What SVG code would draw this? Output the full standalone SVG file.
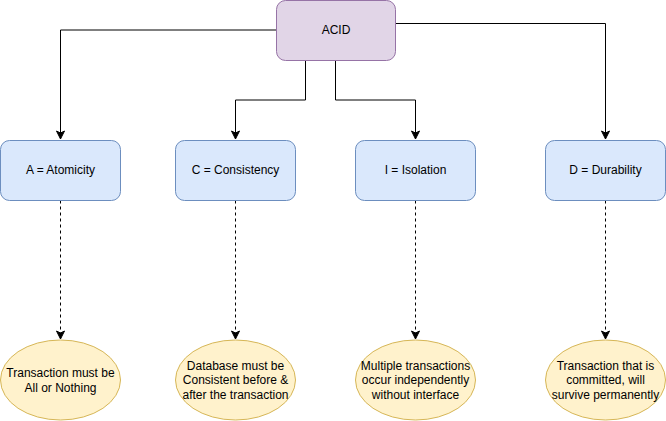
<svg xmlns="http://www.w3.org/2000/svg" width="666" height="421" viewBox="0 0 666 421">
<style>
text{font-family:"Liberation Sans",Arial,Helvetica,sans-serif;font-size:12px;fill:#000;text-anchor:middle}
.root{fill:#e1d5e7;stroke:#9673a6;stroke-width:1}
.box{fill:#dae8fc;stroke:#6c8ebf;stroke-width:1}
.ell{fill:#fff2cc;stroke:#d6b656;stroke-width:1}
.c{fill:none;stroke:#000;stroke-width:1}
.d{stroke-dasharray:3 3}
</style>
<defs>
<marker id="arr" markerWidth="10" markerHeight="10" viewBox="0 0 10 10" refX="9" refY="5" orient="auto" markerUnits="userSpaceOnUse">
<path d="M1,1 L9,5 L1,9 L3,5 Z" fill="#000" stroke="#000" stroke-width="1"/>
</marker>
</defs>
<g id="connectors">
<path class="c" d="M276,30 H60.5 V139" marker-end="url(#arr)"/>
<path class="c" d="M395,23.5 H605.5 V139" marker-end="url(#arr)"/>
<path class="c" d="M305.5,60.5 V100 H235.5 V139" marker-end="url(#arr)"/>
<path class="c" d="M335.5,60.5 V100 H415.5 V139" marker-end="url(#arr)"/>
<path class="c d" d="M60.5,200.5 V339" marker-end="url(#arr)"/>
<path class="c d" d="M235.5,200.5 V339" marker-end="url(#arr)"/>
<path class="c d" d="M415.5,200.5 V339" marker-end="url(#arr)"/>
<path class="c d" d="M605.5,200.5 V339" marker-end="url(#arr)"/>
</g>
<g id="acid">
<rect class="root" x="276.5" y="0.5" width="119" height="60" rx="9"/>
<text x="336" y="34">ACID</text>
</g>
<g id="atomicity">
<rect class="box" x="0.5" y="140.5" width="120" height="60" rx="9"/>
<text x="60.5" y="174">A = Atomicity</text>
</g>
<g id="consistency">
<rect class="box" x="175.5" y="140.5" width="120" height="60" rx="9"/>
<text x="235.5" y="174">C = Consistency</text>
</g>
<g id="isolation">
<rect class="box" x="355.5" y="140.5" width="120" height="60" rx="9"/>
<text x="415.5" y="174">I = Isolation</text>
</g>
<g id="durability">
<rect class="box" x="545.5" y="140.5" width="120" height="60" rx="9"/>
<text x="605.5" y="174">D = Durability</text>
</g>
<g id="atomicity-desc">
<ellipse class="ell" cx="60.5" cy="380" rx="60" ry="40"/>
<text x="60.5" y="377">Transaction must be</text>
<text x="60.5" y="391.5">All or Nothing</text>
</g>
<g id="consistency-desc">
<ellipse class="ell" cx="235.5" cy="380" rx="60" ry="40"/>
<text x="235.5" y="369.5">Database must be</text>
<text x="235.5" y="384">Consistent before &amp;</text>
<text x="235.5" y="398.5">after the transaction</text>
</g>
<g id="isolation-desc">
<ellipse class="ell" cx="415.5" cy="380" rx="60" ry="40"/>
<text x="415.5" y="369.5">Multiple transactions</text>
<text x="415.5" y="384">occur independently</text>
<text x="415.5" y="398.5">without interface</text>
</g>
<g id="durability-desc">
<ellipse class="ell" cx="605.5" cy="380" rx="60" ry="40"/>
<text x="605.5" y="369.5">Transaction that is</text>
<text x="605.5" y="384">committed, will</text>
<text x="605.5" y="398.5">survive permanently</text>
</g>
</svg>
